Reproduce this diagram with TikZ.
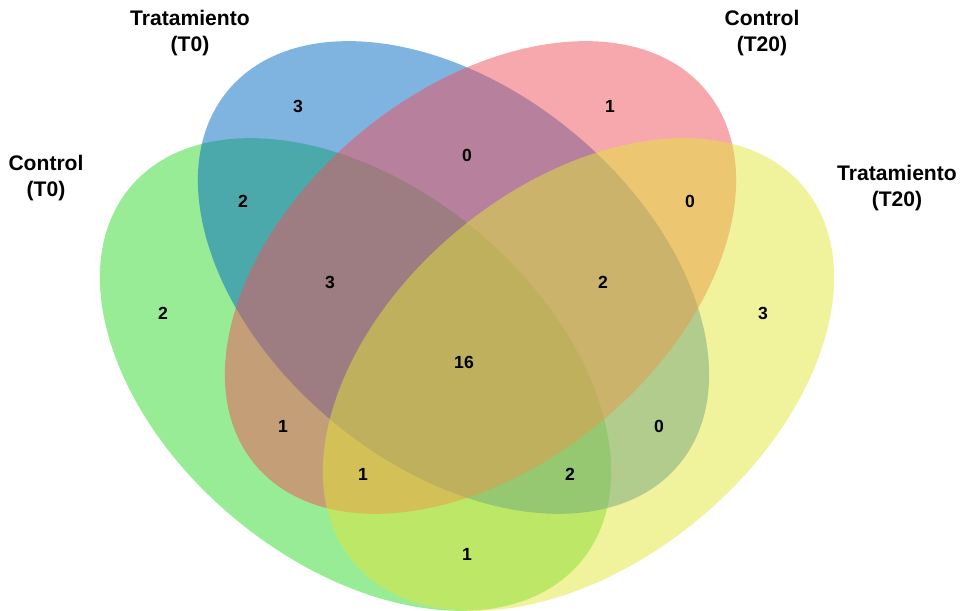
\documentclass[tikz,border=0pt]{standalone}
\usepackage{fontspec}
\setmainfont{Liberation Sans}
\definecolor{vgreen}{RGB}{50,218,45}
\definecolor{vblue}{RGB}{0,103,193}
\definecolor{vred}{RGB}{239,81,91}
\definecolor{vyellow}{RGB}{227,229,57}
\tikzset{
    setfill/.style={fill=#1, fill opacity=0.5},
    setname/.style={align=center, font=\fontsize{12}{14.7}\selectfont\bfseries},
    count/.style={font=\fontsize{10}{12}\selectfont\bfseries}
}
\begin{document}
\begin{tikzpicture}
    \useasboundingbox (0,0) rectangle (19.28,12.22);

    % The four sets
    \fill[setfill=vgreen, rotate around={-39.6:(7.11,4.73)}] (7.11,4.73) ellipse [x radius=5.86cm, y radius=3.76cm];
    \fill[setfill=vblue, rotate around={-39.6:(9.07,6.67)}] (9.07,6.67) ellipse [x radius=5.86cm, y radius=3.76cm];
    \fill[setfill=vred, rotate around={39.6:(9.61,6.67)}] (9.61,6.67) ellipse [x radius=5.86cm, y radius=3.76cm];
    \fill[setfill=vyellow, rotate around={39.6:(11.57,4.73)}] (11.57,4.73) ellipse [x radius=5.86cm, y radius=3.76cm];

    % Set names
    \node[setname] (ctrlT0) at (0.92,8.66) {Control\\(T0)};
    \node[setname] (tratT0) at (3.80,11.56) {Tratamiento\\(T0)};
    \node[setname] (ctrlT20) at (15.24,11.56) {Control\\(T20)};
    \node[setname] (tratT20) at (17.94,8.46) {Tratamiento\\(T20)};

    % Counts per region
    \node[count] (nB) at (5.96,10.10) {3};
    \node[count] (nC) at (12.20,10.10) {1};
    \node[count] (nBC) at (9.34,9.12) {0};
    \node[count] (nAB) at (4.86,8.20) {2};
    \node[count] (nCD) at (13.80,8.20) {0};
    \node[count] (nABC) at (6.60,6.58) {3};
    \node[count] (nBCD) at (12.06,6.58) {2};
    \node[count] (nA) at (3.26,5.96) {2};
    \node[count] (nD) at (15.26,5.96) {3};
    \node[count] (nABCD) at (9.28,4.98) {16};
    \node[count] (nAC) at (5.66,3.70) {1};
    \node[count] (nBD) at (13.18,3.70) {0};
    \node[count] (nACD) at (7.26,2.74) {1};
    \node[count] (nABD) at (11.40,2.74) {2};
    \node[count] (nAD) at (9.34,1.14) {1};
\end{tikzpicture}
\end{document}
